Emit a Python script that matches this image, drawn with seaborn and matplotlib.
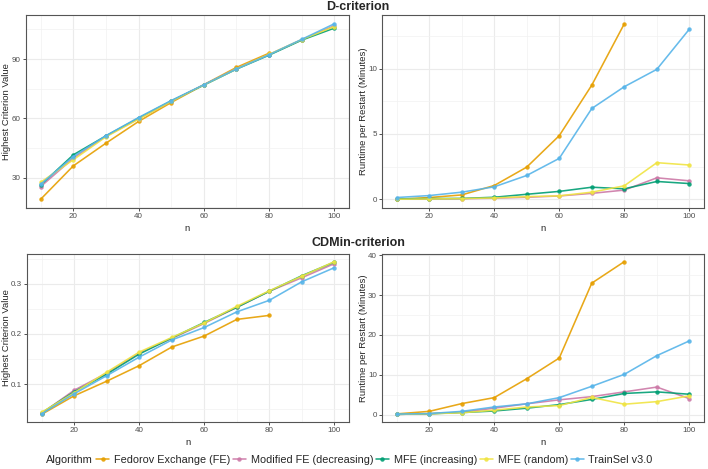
import numpy as np
import pandas as pd
import matplotlib
matplotlib.use("Agg")
import matplotlib.pyplot as plt
import seaborn as sb
from matplotlib.ticker import MultipleLocator, AutoMinorLocator

# sample sizes and algorithm names
n_values = [10, 20, 30, 40, 50, 60, 70, 80, 90, 100]
algorithms = ["Fedorov Exchange (FE)", "Modified FE (decreasing)", "MFE (increasing)",
              "MFE (random)", "TrainSel v3.0"]
colors = ["#E69F00", "#CC79A7", "#009E73", "#F0E442", "#56B4E9"]
nan = np.nan

# D-criterion: highest criterion value
d_value_fe = [19.0, 35.9, 47.4, 58.4, 68.0, 77.0, 85.8, 93.0, nan, nan]
d_value_dec = [25.4, 39.8, 50.9, 59.8, 68.6, 77.0, 85.2, 92.3, 99.8, 106.9]
d_value_inc = [26.2, 41.5, 51.1, 60.1, 68.8, 76.8, 84.9, 92.0, 99.6, 105.7]
d_value_rand = [27.6, 39.0, 50.6, 59.6, 68.6, 76.9, 85.1, 92.4, 99.9, 106.5]
d_value_ts = [26.6, 40.6, 51.2, 60.4, 69.0, 77.0, 85.0, 92.2, 100.0, 107.9]

# D-criterion: runtime per restart (minutes)
d_time_fe = [0.0, 0.13, 0.33, 1.05, 2.46, 4.87, 8.74, 13.44, nan, nan]
d_time_dec = [0.0, 0.02, 0.04, 0.08, 0.15, 0.25, 0.45, 0.70, 1.64, 1.41]
d_time_inc = [0.02, 0.05, 0.06, 0.15, 0.38, 0.60, 0.92, 0.80, 1.36, 1.20]
d_time_rand = [0.0, 0.02, 0.05, 0.10, 0.20, 0.26, 0.54, 1.03, 2.80, 2.62]
d_time_ts = [0.13, 0.28, 0.54, 0.95, 1.82, 3.13, 6.95, 8.62, 9.95, 13.03]

# CDMin-criterion: highest criterion value
c_value_fe = [0.040, 0.077, 0.106, 0.137, 0.174, 0.196, 0.229, 0.237, nan, nan]
c_value_dec = [0.042, 0.088, 0.122, 0.162, 0.191, 0.221, 0.253, 0.285, 0.312, 0.340]
c_value_inc = [0.043, 0.085, 0.120, 0.160, 0.192, 0.223, 0.253, 0.285, 0.316, 0.343]
c_value_rand = [0.044, 0.083, 0.124, 0.164, 0.193, 0.222, 0.255, 0.286, 0.315, 0.344]
c_value_ts = [0.041, 0.081, 0.117, 0.154, 0.188, 0.213, 0.244, 0.267, 0.304, 0.332]

# CDMin-criterion: runtime per restart (minutes)
c_time_fe = [0.17, 0.8, 2.75, 4.25, 9.0, 14.2, 33.0, 38.4, nan, nan]
c_time_dec = [0.05, 0.2, 0.6, 1.6, 2.7, 3.7, 4.5, 5.7, 6.9, 4.0]
c_time_inc = [0.05, 0.2, 0.5, 0.9, 1.6, 2.5, 3.8, 5.3, 5.7, 5.1]
c_time_rand = [0.05, 0.2, 0.45, 1.1, 1.9, 2.25, 4.3, 2.6, 3.25, 4.7]
c_time_ts = [0.1, 0.25, 0.8, 1.9, 2.7, 4.25, 7.1, 10.1, 14.8, 18.5]


def long_frame(series):
    # stack one list per algorithm into a long data frame for seaborn
    rows = []
    for alg, vals in zip(algorithms, series):
        for n, v in zip(n_values, vals):
            if not np.isnan(v):
                rows.append({"n": n, "value": v, "Algorithm": alg})
    return pd.DataFrame(rows)


W, H = 708, 469
# (data, y label, major y step, panel rect in pixels: left, top, width, height, y label x in pixels)
panels = [
    (long_frame([d_value_fe, d_value_dec, d_value_inc, d_value_rand, d_value_ts]),
     "Highest Criterion Value", 30, (26, 15, 323, 193), 7),
    (long_frame([d_time_fe, d_time_dec, d_time_inc, d_time_rand, d_time_ts]),
     "Runtime per Restart (Minutes)", 5, (382, 15, 322, 193), 363),
    (long_frame([c_value_fe, c_value_dec, c_value_inc, c_value_rand, c_value_ts]),
     "Highest Criterion Value", 0.1, (27, 254, 322, 168), 7),
    (long_frame([c_time_fe, c_time_dec, c_time_inc, c_time_rand, c_time_ts]),
     "Runtime per Restart (Minutes)", 10, (382, 254, 322, 168), 363),
]

sb.set_style("white")
plt.rcParams["font.family"] = ["Liberation Sans", "DejaVu Sans"]

fig = plt.figure(figsize=(W / 100, H / 100), dpi=100)
palette = dict(zip(algorithms, colors))

for i, (df, ylabel, ystep, (l, t, w, h), label_x) in enumerate(panels):
    ax = fig.add_axes([l / W, 1 - (t + h) / H, w / W, h / H])
    sb.lineplot(data=df, x="n", y="value", hue="Algorithm", hue_order=algorithms,
                palette=palette, marker="o", markersize=3.2, markeredgewidth=0,
                linewidth=1.15, alpha=0.9, legend=(i == 0), ax=ax, zorder=3)
    # ggplot-like 5% expansion of the data range
    lo, hi = df["value"].min(), df["value"].max()
    pad = (hi - lo) * 0.05
    ax.set_ylim(lo - pad, hi + pad)
    ax.set_xlim(10 - 4.5, 100 + 4.5)
    ax.xaxis.set_major_locator(MultipleLocator(20))
    ax.xaxis.set_minor_locator(AutoMinorLocator(2))
    ax.yaxis.set_major_locator(MultipleLocator(ystep))
    ax.yaxis.set_minor_locator(AutoMinorLocator(2))
    ax.grid(which="major", color="#EBEBEB", linewidth=0.8, zorder=0)
    ax.grid(which="minor", color="#F2F2F2", linewidth=0.5, zorder=0)
    ax.set_axisbelow(True)
    for s in ax.spines.values():
        s.set_color("#555555")
        s.set_linewidth(0.8)
    ax.tick_params(which="major", length=2.2, width=0.6, color="#333333",
                   labelsize=5.8, labelcolor="#4D4D4D", pad=1.5, bottom=True, left=True)
    ax.tick_params(which="minor", length=0)
    ax.set_xlabel("n", fontsize=6.8, labelpad=2.5)
    ax.set_ylabel(ylabel, fontsize=6.8)
    ax.yaxis.set_label_coords((label_x - l) / w, 0.5)
    ax.yaxis.label.set_va("center")
    if i == 0:
        handles, labels = ax.get_legend_handles_labels()
        ax.get_legend().remove()

fig.text(0.506, 1 - 7.5 / H, "D-criterion", ha="center", va="center",
         fontsize=9, fontweight="bold")
fig.text(0.506, 1 - 243 / H, "CDMin-criterion", ha="center", va="center",
         fontsize=9, fontweight="bold")

fig.text(46 / W, 1 - 460 / H, "Algorithm", ha="left", va="center", fontsize=7.9)
leg = fig.legend(handles, labels, loc="center left", bbox_to_anchor=(96 / W, 1 - 460 / H),
                 ncol=5, frameon=False, fontsize=7.8, handlelength=1.2, handletextpad=0.45,
                 columnspacing=0.25, borderpad=0, borderaxespad=0)
for hd in leg.legend_handles:
    hd.set_linewidth(1.15)
    hd.set_markersize(3.2)

fig.savefig("out.png", dpi=100)
